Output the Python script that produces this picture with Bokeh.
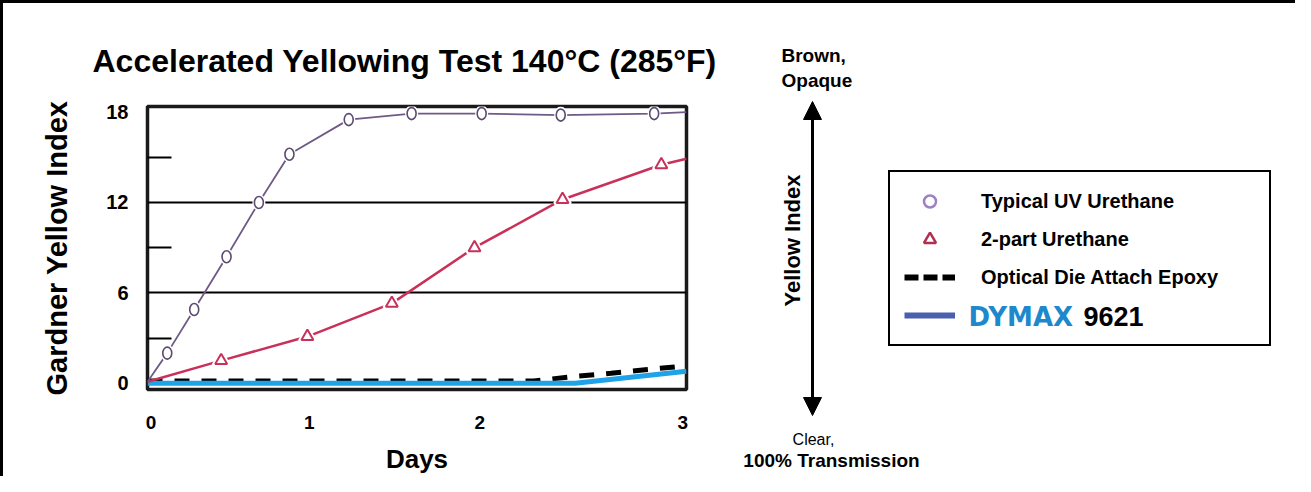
from math import pi
from bokeh.plotting import figure
from bokeh.layouts import row, column
from bokeh.models import (Range1d, FixedTicker, Label, Arrow, Div,
                          NormalHead, Legend, LegendItem)
from bokeh.embed import file_html
from bokeh.resources import INLINE

# ---------------- data ----------------
# Typical UV Urethane (circles)
uv_days = [0.11, 0.26, 0.44, 0.62, 0.79, 1.12, 1.47, 1.86, 2.30, 2.82]
uv_vals = [2.0, 4.9, 8.4, 12.0, 15.2, 17.5, 17.9, 17.9, 17.8, 17.9]
uv_line_days = [0.0] + uv_days + [3.0]
uv_line_vals = [0.1] + uv_vals + [18.0]

# 2-part Urethane (triangles)
tri_days = [0.41, 0.89, 1.36, 1.82, 2.31, 2.86]
tri_vals = [1.5, 3.1, 5.3, 9.0, 12.2, 14.5]
tri_line_days = [0.0] + tri_days + [3.0]
tri_line_vals = [0.1] + tri_vals + [14.9]

# Optical Die Attach Epoxy (dashed)
opt_days = [0.0, 2.15, 2.38, 2.58, 2.77, 2.95, 3.0]
opt_vals = [0.15, 0.15, 0.46, 0.66, 0.90, 1.10, 1.15]

# DYMAX 9621 (blue)
dym_days = [0.0, 2.38, 3.0]
dym_vals = [0.0, 0.0, 0.8]

x_tick_pos = [0.02, 0.90, 1.85, 2.98]
x_tick_labels = ["0", "1", "2", "3"]
y_ticks = [0, 6, 12, 18]
y_minor_ticks = [3, 9, 15]
y_grid = [6, 12]

series_names = ["Typical UV Urethane", "2-part Urethane", "Optical Die Attach Epoxy", " "]

# ---------------- layout (page pixels) ----------------
FONT = "Liberation Sans"
BW = 3                               # outer border width
OX, OY = 8 + BW, 8 + BW              # page position of the canvases
SPLIT = 740                          # where the side panel starts
H = 473
WM = SPLIT - OX
WS = 1303 - SPLIT
FL, FR, FT, FB = 155, 694, 114, 399  # chart frame on the page
X0, X1 = 0.0, 3.0
Y0, Y1 = -0.415, 18.37

p = figure(width=WM, height=H, x_range=Range1d(X0, X1), y_range=Range1d(Y0, Y1),
           output_backend="svg", toolbar_location=None,
           min_border_left=FL - OX, min_border_right=SPLIT - FR,
           min_border_top=FT - OY, min_border_bottom=OY + H - FB)
p.background_fill_color = "white"
p.border_fill_color = "white"
p.outline_line_color = "#1a1a1a"
p.outline_line_width = 3.5

# title
p.title.text = "Accelerated Yellowing Test 140\u00b0C (285\u00b0F)"
p.title.text_font = FONT
p.title.text_font_size = "32px"
p.title.text_font_style = "bold"
p.title.text_color = "black"
p.title.align = "left"
p.title.offset = 100 - FL
p.title.standoff = 55

# x axis
p.xaxis.ticker = FixedTicker(ticks=x_tick_pos)
p.xaxis.major_label_overrides = {float(t): l for t, l in zip(x_tick_pos, x_tick_labels)}
p.xaxis.axis_line_color = None
p.xaxis.major_tick_line_color = None
p.xaxis.minor_tick_line_color = None
p.xaxis.major_label_standoff = 20
p.xaxis.major_label_text_font = FONT
p.xaxis.major_label_text_font_size = "19px"
p.xaxis.major_label_text_font_style = "bold"
p.xaxis.major_label_text_color = "black"
p.xaxis.axis_label = "Days"
p.xaxis.axis_label_text_font = FONT
p.xaxis.axis_label_text_font_size = "26px"
p.xaxis.axis_label_text_font_style = "bold"
p.xaxis.axis_label_text_color = "black"
p.xaxis.axis_label_standoff = 12

# y axis
p.yaxis.ticker = FixedTicker(ticks=y_ticks, minor_ticks=y_minor_ticks)
p.yaxis.axis_line_color = None
p.yaxis.major_tick_line_color = None
p.yaxis.minor_tick_line_color = "black"
p.yaxis.minor_tick_line_width = 2
p.yaxis.minor_tick_in = 24
p.yaxis.minor_tick_out = 0
p.yaxis.major_label_standoff = 13
p.yaxis.major_label_text_font = FONT
p.yaxis.major_label_text_font_size = "20px"
p.yaxis.major_label_text_font_style = "bold"
p.yaxis.major_label_text_color = "black"
p.yaxis.axis_label = "Gardner Yellow Index"
p.yaxis.axis_label_text_font = FONT
p.yaxis.axis_label_text_font_size = "29px"
p.yaxis.axis_label_text_font_style = "bold"
p.yaxis.axis_label_text_color = "black"
p.yaxis.axis_label_standoff = 30

p.xgrid.visible = False
p.ygrid.ticker = FixedTicker(ticks=y_grid)
p.ygrid.grid_line_color = "black"
p.ygrid.grid_line_width = 2.2

# ---------------- series ----------------
p.line(opt_days, opt_vals, line_color="black", line_width=5, line_dash="15 12")
p.line(dym_days, dym_vals, line_color="#1ea3e8", line_width=5)

p.line(tri_line_days, tri_line_vals, line_color="#c8325a", line_width=2.5)
p.line(uv_line_days, uv_line_vals, line_color="#6f5a86", line_width=1.8)

# white halos give the small gaps of the line round each marker
p.scatter(tri_days, tri_vals, marker="triangle", size=15, fill_color="white",
          line_color="white", line_width=4)
p.scatter(tri_days, tri_vals, marker="triangle", size=12, fill_color="white",
          line_color="#c8325a", line_width=2)
p.ellipse(uv_days, uv_vals, width=13, height=17, width_units="screen",
          height_units="screen", fill_color="white", line_color=None)
p.ellipse(uv_days, uv_vals, width=9, height=12, width_units="screen",
          height_units="screen", fill_color="white", line_color="#5d4a70", line_width=1.6)

# ---------------- side panel: yellow index scale and legend ----------------
s = figure(width=WS, height=H, x_range=Range1d(SPLIT, SPLIT + WS),
           y_range=Range1d(OY + H, OY), x_axis_type=None, y_axis_type=None,
           output_backend="svg", toolbar_location=None, min_border=0)
s.outline_line_color = None
s.background_fill_color = "white"
s.border_fill_color = "white"
s.grid.visible = False

for fig in (p, s):
    if "frame_align" in fig.properties():
        fig.frame_align = False

# legend keys (hidden copies of the series, styled as the legend shows them)
lg_uv = s.scatter(uv_days, uv_vals, marker="circle",
                  fill_color="white", line_color="#9c82c4", line_width=2.5, visible=False)
lg_tri = s.scatter(tri_days, tri_vals, marker="triangle",
                   fill_color="white", line_color="#b03052", line_width=2.5, visible=False)
lg_opt = s.line(opt_days, opt_vals, line_color="black",
                line_width=6, line_dash="14 5", visible=False)
lg_dym = s.line(dym_days, dym_vals, line_color="#4a5fae",
                line_width=6, visible=False)

legend = Legend(items=[LegendItem(label=n, renderers=[r]) for n, r in
                       zip(series_names, [lg_uv, lg_tri, lg_opt, lg_dym])],
                location=(896 - SPLIT, OY + H - 354), margin=0, padding=14,
                glyph_width=51, glyph_height=30, label_height=30, label_width=274,
                spacing=8, label_standoff=26, click_policy="none",
                inactive_fill_alpha=0.0,
                border_line_color="black", border_line_width=2, border_line_alpha=1.0,
                background_fill_color="white", background_fill_alpha=0.0,
                label_text_font=FONT, label_text_font_size="20px",
                label_text_font_style="bold", label_text_color="black")
s.add_layout(legend)

s.add_layout(Label(x=976, y=324, text="DYMAX", text_font="DejaVu Sans",
                   text_font_size="26px", text_font_style="bold", text_color="#1e88cc",
                   text_baseline="middle", text_align="left", level="overlay"))
s.add_layout(Label(x=1091, y=324, text="9621", text_font=FONT,
                   text_font_size="27px", text_font_style="bold", text_color="black",
                   text_baseline="middle", text_align="left", level="overlay"))

s.add_layout(Arrow(x_start=820, y_start=423, x_end=820, y_end=109,
                   line_color="black", line_width=3,
                   start=NormalHead(size=18, fill_color="black", line_color="black"),
                   end=NormalHead(size=18, fill_color="black", line_color="black")))
s.add_layout(Label(x=789, y=63, text="Brown,", text_font=FONT,
                   text_font_size="19px", text_font_style="bold", text_color="black",
                   text_baseline="middle", text_align="left"))
s.add_layout(Label(x=789, y=88, text="Opaque", text_font=FONT,
                   text_font_size="19px", text_font_style="bold", text_color="black",
                   text_baseline="middle", text_align="left"))
s.add_layout(Label(x=800, y=248, text="Yellow Index", text_font=FONT,
                   text_font_size="22px", text_font_style="bold", text_color="black",
                   text_baseline="middle", text_align="center", angle=pi / 2))
s.add_layout(Label(x=821, y=447, text="Clear,", text_font=FONT,
                   text_font_size="16px", text_font_style="normal", text_color="black",
                   text_baseline="middle", text_align="center"))
s.add_layout(Label(x=839, y=468, text="100% Transmission", text_font=FONT,
                   text_font_size="19px", text_font_style="bold", text_color="black",
                   text_baseline="middle", text_align="center"))

# outer frame of the figure: a top and a left black rule
top_rule = Div(text="", width=BW + WM + WS, height=BW, margin=0,
               styles={"background-color": "black"})
left_rule = Div(text="", width=BW, height=H, margin=0,
                styles={"background-color": "black"})

page = column(top_rule, row(left_rule, p, s, spacing=0), spacing=0)

open("out.html", "w").write(file_html(page, INLINE))
